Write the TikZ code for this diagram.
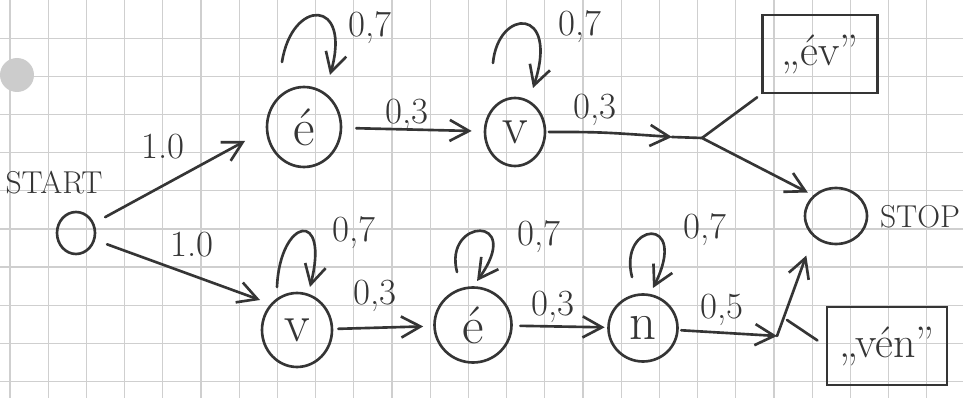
\documentclass[tikz,border=0pt]{standalone}
\usepackage{fontspec}
\usetikzlibrary{arrows.meta,shapes.geometric,calc}
\definecolor{inkc}{HTML}{353535}
\definecolor{gridc}{HTML}{CFCFCF}
\begin{document}
\begin{tikzpicture}[x=0.02cm,y=-0.02cm,
  ink/.style={draw=inkc, line width=1.5pt, line cap=round, line join=round},
  arr/.style={ink, -{Straight Barb[length=11pt,width=12pt,line width=1.5pt]}},
  st/.style={ellipse, draw=inkc, line width=1.5pt, inner sep=0pt, text=inkc, font=\fontsize{30}{32}\selectfont},
  lbl/.style={text=inkc, font=\fontsize{21}{23}\selectfont, inner sep=1pt},
  outbox/.style={rectangle, draw=inkc, line width=1.5pt, text=inkc, font=\fontsize{25}{27}\selectfont, minimum width=2.3cm, minimum height=1.56cm},
  gridline/.style={draw=gridc, line width=0.7pt}]
\useasboundingbox (0,0) rectangle (963,398);
\fill[white] (0,0) rectangle (963,398);
% grid paper
\foreach \i in {0,...,25} \draw[gridline] ({10+38.2*\i},0) -- ({10+38.2*\i},398);
\foreach \j in {1,...,10} \draw[gridline] (0,{38.15*\j}) -- (963,{38.15*\j});
\fill[gray!40] (17,75) circle [radius=0.34cm];

% states
\node[st, minimum width=0.76cm, minimum height=0.84cm] (start) at (76,233) {};
\node[text=inkc, font=\fontsize{18}{20}\selectfont] (startlbl) at (54,183) {START};
\node[st, minimum width=1.48cm, minimum height=1.6cm] (e1) at (304,127) {é};
\node[st, minimum width=1.2cm, minimum height=1.36cm] (v1) at (515,132) {v};
\node[st, minimum width=1.24cm, minimum height=1.12cm] (stop) at (836,216) {};
\node[text=inkc, font=\fontsize{18}{20}\selectfont] (stoplbl) at (920,217) {STOP};
\node[st, minimum width=1.4cm, minimum height=1.48cm] (v2) at (297,330) {v};
\node[st, minimum width=1.54cm, minimum height=1.5cm] (e2) at (473,325) {é};
\node[st, minimum width=1.38cm, minimum height=1.34cm] (n) at (643,328) {n};
\node[outbox] (box1) at (820,54) {„év”};
\node[outbox, minimum width=2.4cm] (box2) at (887,346) {„vén”};

% helper coordinates
\coordinate (t1) at (245,141);
\coordinate (t2) at (260,300);
\coordinate (m1) at (672,137);
\coordinate (m2) at (702,138);
\coordinate (m3) at (777,336);
\coordinate (m4) at (787,320);

% start transitions
\draw[arr, shorten <=0.25cm] (start) -- (t1);
\draw[arr, shorten <=0.25cm] (start) -- (t2);
\node[lbl] (l1) at (163,147) {1.0};
\node[lbl] (l2) at (192,245) {1.0};

% upper path
\draw[arr, shorten <=0.28cm, shorten >=0.24cm] (e1) -- (v1);
\node[lbl] (l3) at (407,115) {0,3};
\draw[arr, shorten <=0.05cm] (v1.east) .. controls (600,132) .. (m1);
\node[lbl] (l4) at (595,110) {0,3};
\draw[arr, shorten >=0.12cm] (m1) -- (m2) -- (stop.north west);
\draw[ink, shorten >=0.1cm] (m2) -- (box1.south west);

% upper loops
\coordinate (a1) at (282,62); \coordinate (b1) at (330,75);
\draw[arr] (a1) .. controls (292,-2) and (352,-2) .. (b1);
\node[lbl] (l5) at (370,28) {0,7};
\coordinate (a2) at (493,63); \coordinate (b2) at (533,88);
\draw[arr] (a2) .. controls (498,8) and (560,6) .. (b2);
\node[lbl] (l6) at (580,27) {0,7};

% lower path
\draw[arr, shorten <=0.1cm, shorten >=0.2cm] (v2) -- (e2);
\node[lbl] (l7) at (375,296) {0,3};
\draw[arr, shorten <=0.15cm, shorten >=0.05cm] (e2) -- (n);
\node[lbl] (l8) at (553,307) {0,3};
\draw[arr, shorten <=0.05cm] (n) -- (m3);
\node[lbl] (l9) at (722,310) {0,5};
\draw[arr, shorten >=0.4cm] (m3) -- (stop.south west);
\draw[ink, shorten >=0.2cm] (m4) -- (box2.west);

% lower loops
\coordinate (a3) at (277,287); \coordinate (b3) at (310,287);
\draw[arr] (a3) .. controls (280,218) and (330,208) .. (b3);
\node[lbl] (l10) at (354,233) {0,7};
\coordinate (a4) at (457,272); \coordinate (b4) at (477,281);
\draw[arr] (a4) .. controls (443,218) and (525,214) .. (b4);
\node[lbl] (l11) at (539,237) {0,7};
\coordinate (a5) at (632,277); \coordinate (b5) at (653,288);
\draw[arr] (a5) .. controls (618,222) and (690,214) .. (b5);
\node[lbl] (l12) at (705,230) {0,7};
\end{tikzpicture}
\end{document}
